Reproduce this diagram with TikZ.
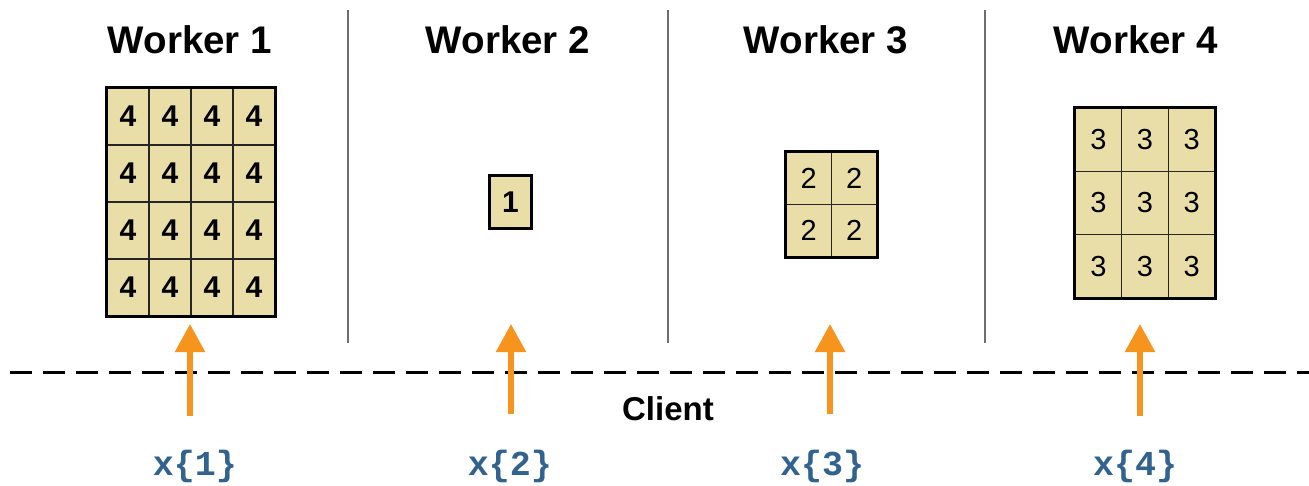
\documentclass[tikz,border=0pt]{standalone}
\usepackage{fontspec}
\setmainfont{Liberation Sans}
\setmonofont{Liberation Mono}
\usetikzlibrary{arrows.meta}
\definecolor{cellfill}{RGB}{234,222,168}
\definecolor{arroworange}{RGB}{247,148,30}
\definecolor{codeblue}{RGB}{50,98,142}
\definecolor{sepgray}{RGB}{110,110,110}
\tikzset{
  title/.style={font=\fontsize{38.5}{42}\selectfont\bfseries, anchor=center},
  cell/.style={draw=black!85, line width=1.3pt, fill=cellfill, inner sep=0pt},
  boldnum/.style={font=\fontsize{30}{32}\selectfont\bfseries},
  plainnum/.style={font=\fontsize{29}{31}\selectfont},
  outer/.style={draw=black, line width=3pt},
  sep/.style={draw=sepgray, line width=1.2pt},
  feed/.style={draw=arroworange, line width=5.5pt, -{Triangle[width=29pt,length=28pt]}},
  code/.style={font=\fontsize{35}{36}\selectfont\ttfamily\bfseries, text=codeblue},
}
\begin{document}
\begin{tikzpicture}[x=1pt,y=-1pt]
\useasboundingbox (0,0) rectangle (1309,485);
% titles
\node[title] (t1) at (190,40) {Worker 1};
\node[title] (t2) at (508,40) {Worker 2};
\node[title] (t3) at (826,40) {Worker 3};
\node[title] (t4) at (1136,40) {Worker 4};
% separators
\coordinate (s1a) at (348,10); \coordinate (s1b) at (348,343);
\coordinate (s2a) at (668,10); \coordinate (s2b) at (668,343);
\coordinate (s3a) at (985,10); \coordinate (s3b) at (985,343);
\draw[sep] (s1a) -- (s1b);
\draw[sep] (s2a) -- (s2b);
\draw[sep] (s3a) -- (s3b);
% grid 1: 4x4
\foreach \r in {1,...,4}
  \foreach \c in {1,...,4}
    \node[cell, boldnum, minimum width=42pt, minimum height=57pt] (a-\r-\c) at ({107+42*(\c-0.5)},{88+57*(\r-0.5)}) {4};
\draw[outer] (a-1-1.north west) rectangle (a-4-4.south east);
% grid 2: 1x1
\node[cell, boldnum, minimum width=41pt, minimum height=52pt] (b-1-1) at (510.5,202) {1};
\draw[outer] (b-1-1.north west) rectangle (b-1-1.south east);
% grid 3: 2x2
\foreach \r in {1,2}
  \foreach \c in {1,2}
    \node[cell, plainnum, minimum width=45.5pt, minimum height=52.5pt] (c-\r-\c) at ({786+45.5*(\c-0.5)},{152+52.5*(\r-0.5)}) {2};
\draw[outer] (c-1-1.north west) rectangle (c-2-2.south east);
% grid 4: 3x3
\foreach \r in {1,2,3}
  \foreach \c in {1,2,3}
    \node[cell, plainnum, minimum width=46.67pt, minimum height=63.33pt] (d-\r-\c) at ({1075+46.67*(\c-0.5)},{108+63.33*(\r-0.5)}) {3};
\draw[outer] (d-1-1.north west) rectangle (d-3-3.south east);
% dashed client line
\coordinate (dl) at (10,372); \coordinate (dr) at (1309,372);
\draw[line width=3pt, dash pattern=on 22pt off 11pt] (dl) -- (dr);
\node[font=\fontsize{33}{35}\selectfont\bfseries] (client) at (668,409) {Client};
% arrows
\coordinate (f1) at (190,416); \coordinate (h1) at (190,324);
\coordinate (f2) at (511,414); \coordinate (h2) at (511,324);
\coordinate (f3) at (830,414); \coordinate (h3) at (830,324);
\coordinate (f4) at (1140,416); \coordinate (h4) at (1140,324);
\draw[feed] (f1) -- (h1);
\draw[feed] (f2) -- (h2);
\draw[feed] (f3) -- (h3);
\draw[feed] (f4) -- (h4);
% code labels
\node[code] (x1) at (195,466) {x\{1\}};
\node[code] (x2) at (510,466) {x\{2\}};
\node[code] (x3) at (822,466) {x\{3\}};
\node[code] (x4) at (1135,466) {x\{4\}};
\end{tikzpicture}
\end{document}
